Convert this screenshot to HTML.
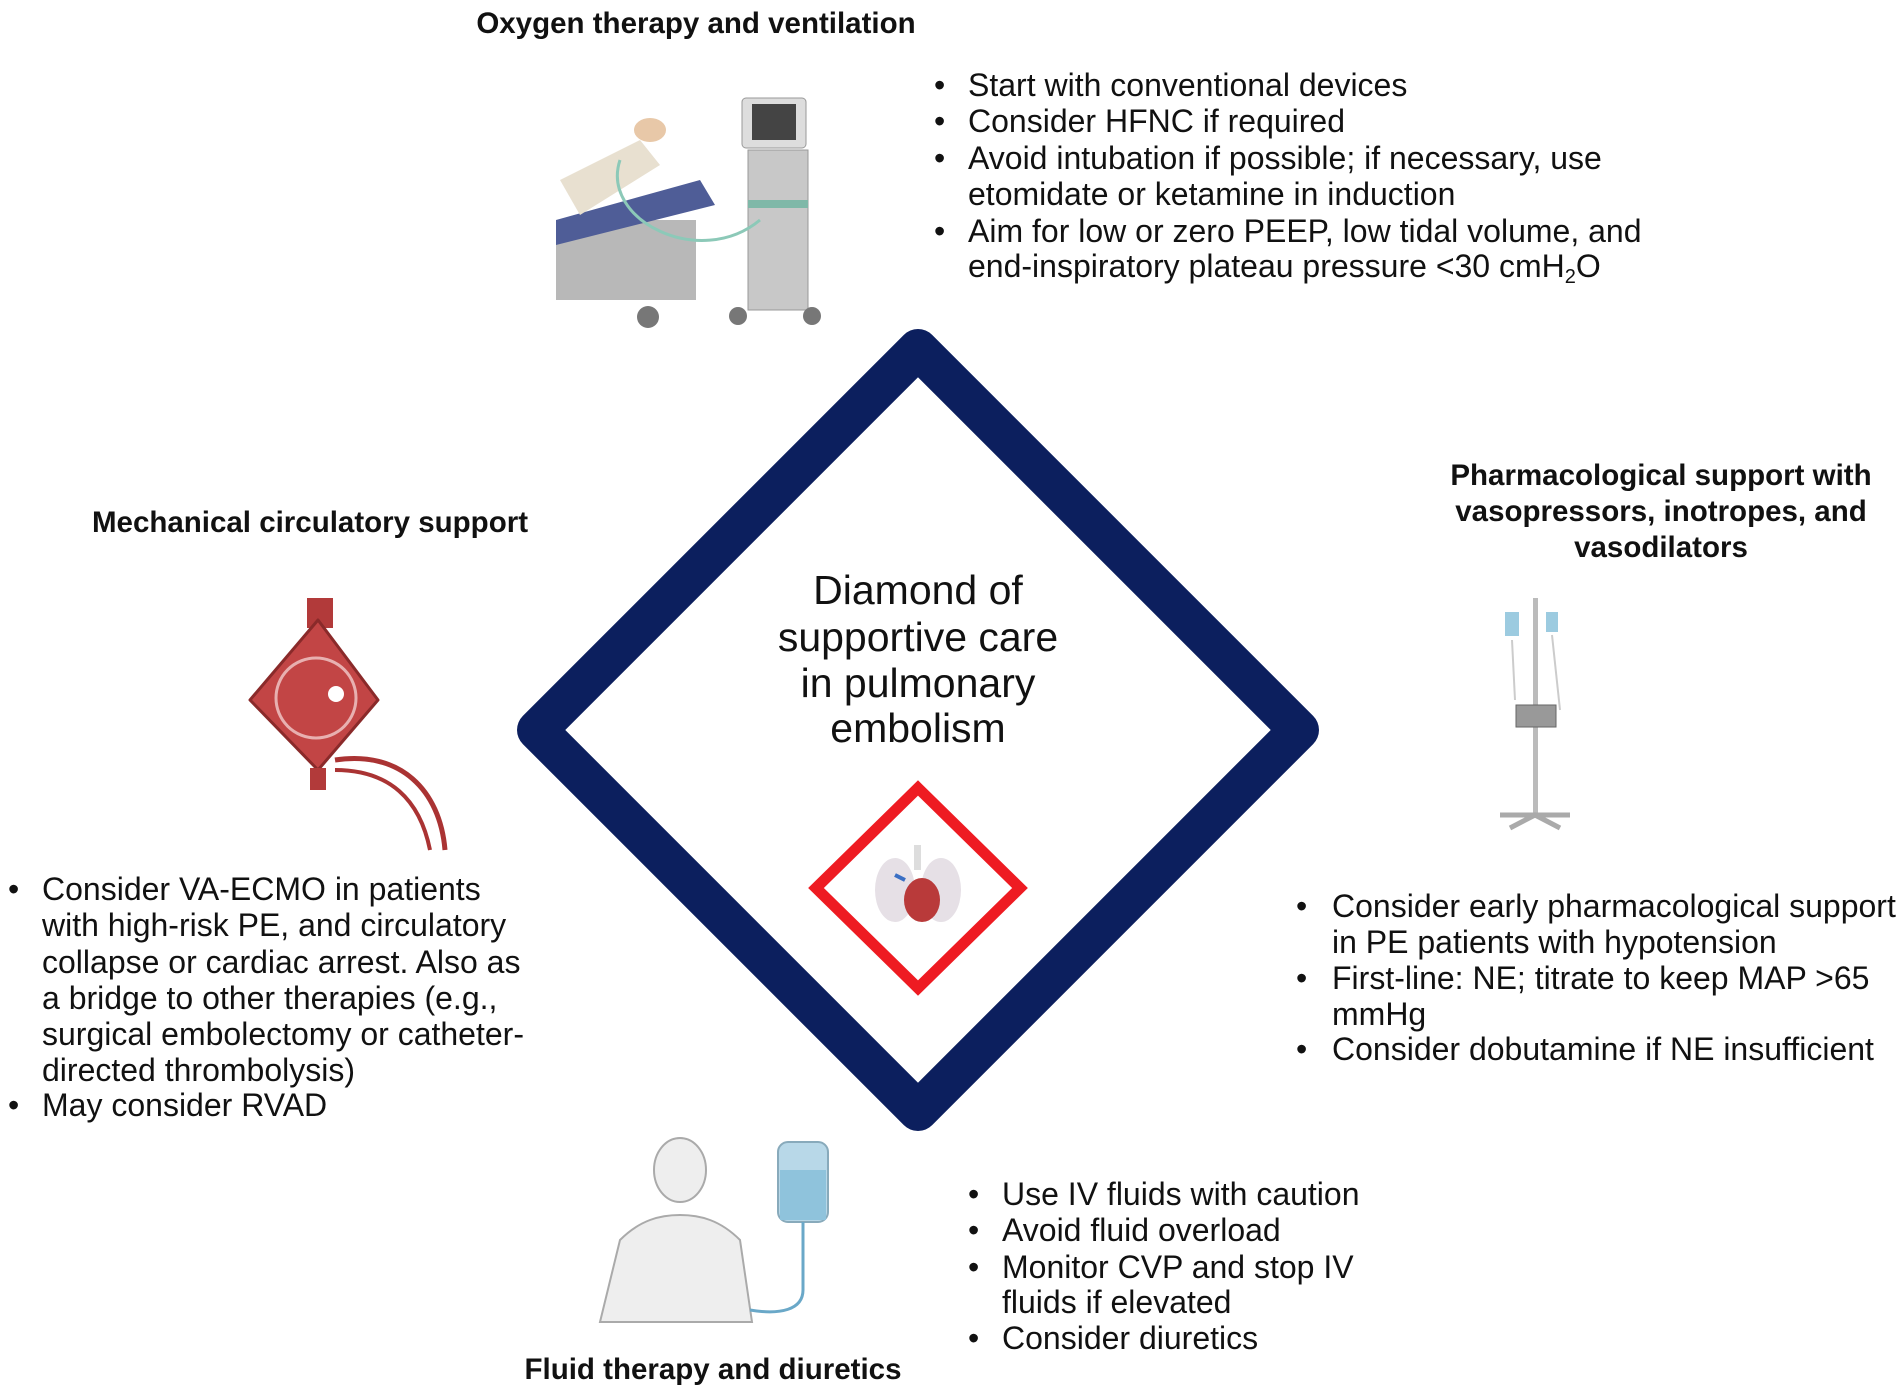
<!DOCTYPE html>
<html><head><meta charset="utf-8"><style>
html,body{margin:0;padding:0;background:#fff;}
svg{display:block;}
text{font-family:"Liberation Sans",sans-serif;fill:#111;}
.t{font-weight:bold;font-size:29.5px;}
.b{font-size:32px;}
</style></head><body>
<svg width="1902" height="1393" viewBox="0 0 1902 1393" xmlns="http://www.w3.org/2000/svg">
<polygon points="918,349 1299,730 918,1111 537,730" fill="none" stroke="#0c1f5e" stroke-width="40" stroke-linejoin="round"/>
<polygon points="918,788 1020,888 918,988 816,888" fill="none" stroke="#ee1b22" stroke-width="11" stroke-linejoin="miter"/>
<rect x="914" y="845" width="7" height="25" fill="#ddd"/>
<ellipse cx="895" cy="890" rx="20" ry="32" fill="#e6e0e6"/>
<ellipse cx="941" cy="890" rx="20" ry="32" fill="#e6e0e6"/>
<ellipse cx="922" cy="900" rx="18" ry="22" fill="#b93a3a"/>
<path d="M905,880 L895,875" stroke="#3a6fc4" stroke-width="4"/>

<g text-anchor="middle">
<text x="918" y="604" font-size="41">Diamond of</text>
<text x="918" y="651" font-size="41">supportive care</text>
<text x="918" y="697" font-size="41">in pulmonary</text>
<text x="918" y="742" font-size="41">embolism</text>
</g>

<text class="t" x="696" y="33" text-anchor="middle">Oxygen therapy and ventilation</text>
<text class="t" x="310" y="532" text-anchor="middle">Mechanical circulatory support</text>
<text class="t" x="1661" y="485" text-anchor="middle">Pharmacological support with</text>
<text class="t" x="1661" y="521" text-anchor="middle">vasopressors, inotropes, and</text>
<text class="t" x="1661" y="557" text-anchor="middle">vasodilators</text>
<text class="t" x="713" y="1379" text-anchor="middle">Fluid therapy and diuretics</text>

<text class="b" x="934" y="96">•</text><text class="b" x="968" y="96">Start with conventional devices</text>
<text class="b" x="934" y="132">•</text><text class="b" x="968" y="132">Consider HFNC if required</text>
<text class="b" x="934" y="169">•</text><text class="b" x="968" y="169">Avoid intubation if possible; if necessary, use</text>
<text class="b" x="968" y="205">etomidate or ketamine in induction</text>
<text class="b" x="934" y="242">•</text><text class="b" x="968" y="242">Aim for low or zero PEEP, low tidal volume, and</text>
<text class="b" x="968" y="277">end-inspiratory plateau pressure &lt;30 cmH<tspan font-size="20" dy="6">2</tspan><tspan dy="-6">O</tspan></text>

<text class="b" x="8" y="900">•</text><text class="b" x="42" y="900">Consider VA-ECMO in patients</text>
<text class="b" x="42" y="936">with high-risk PE, and circulatory</text>
<text class="b" x="42" y="973">collapse or cardiac arrest. Also as</text>
<text class="b" x="42" y="1009">a bridge to other therapies (e.g.,</text>
<text class="b" x="42" y="1045">surgical embolectomy or catheter-</text>
<text class="b" x="42" y="1081">directed thrombolysis)</text>
<text class="b" x="8" y="1116">•</text><text class="b" x="42" y="1116">May consider RVAD</text>

<text class="b" x="1296" y="917">•</text><text class="b" x="1332" y="917">Consider early pharmacological support</text>
<text class="b" x="1332" y="953">in PE patients with hypotension</text>
<text class="b" x="1296" y="989">•</text><text class="b" x="1332" y="989">First-line: NE; titrate to keep MAP &gt;65</text>
<text class="b" x="1332" y="1025">mmHg</text>
<text class="b" x="1296" y="1060">•</text><text class="b" x="1332" y="1060">Consider dobutamine if NE insufficient</text>

<text class="b" x="968" y="1205">•</text><text class="b" x="1002" y="1205">Use IV fluids with caution</text>
<text class="b" x="968" y="1241">•</text><text class="b" x="1002" y="1241">Avoid fluid overload</text>
<text class="b" x="968" y="1278">•</text><text class="b" x="1002" y="1278">Monitor CVP and stop IV</text>
<text class="b" x="1002" y="1313">fluids if elevated</text>
<text class="b" x="968" y="1349">•</text><text class="b" x="1002" y="1349">Consider diuretics</text>

<g>
<rect x="742" y="98" width="64" height="50" rx="4" fill="#ddd" stroke="#999"/>
<rect x="752" y="104" width="44" height="36" fill="#444"/>
<rect x="748" y="150" width="60" height="160" fill="#c8c8c8" stroke="#999"/>
<rect x="748" y="200" width="60" height="8" fill="#7fb8a8"/>
<circle cx="738" cy="316" r="9" fill="#777"/><circle cx="812" cy="316" r="9" fill="#777"/>
<rect x="556" y="220" width="140" height="80" fill="#b8b8b8"/>
<polygon points="556,220 700,180 715,205 556,245" fill="#4f5d97"/>
<path d="M560,180 L640,140 L660,165 L580,215 Z" fill="#e8e0d0"/>
<ellipse cx="650" cy="130" rx="16" ry="12" fill="#e8c8a8"/>
<circle cx="648" cy="317" r="11" fill="#777"/>
<path d="M620,160 C600,220 700,270 760,220" stroke="#8cc9b8" stroke-width="3" fill="none"/>
</g>

<g>
<rect x="307" y="598" width="26" height="30" fill="#b23a3a"/>
<polygon points="318,620 378,700 318,770 250,700" fill="#c24545" stroke="#8a2a2a" stroke-width="3" stroke-linejoin="round"/>
<circle cx="316" cy="698" r="40" fill="none" stroke="#e8b0b0" stroke-width="3"/>
<circle cx="336" cy="694" r="8" fill="#fff"/>
<rect x="310" y="768" width="16" height="22" fill="#b23a3a"/>
<path d="M335,760 C400,750 440,790 445,850" stroke="#a33" stroke-width="5" fill="none"/>
<path d="M335,770 C390,770 420,800 430,850" stroke="#a33" stroke-width="4" fill="none"/>
</g>

<g>
<rect x="1533" y="598" width="5" height="220" fill="#bbb"/>
<rect x="1505" y="612" width="14" height="24" fill="#9ccbe0"/>
<rect x="1546" y="612" width="12" height="20" fill="#9ccbe0"/>
<rect x="1516" y="705" width="40" height="22" fill="#999" stroke="#666"/>
<path d="M1500,815 L1570,815 M1510,828 L1535,815 L1560,828" stroke="#aaa" stroke-width="5" fill="none"/>
<path d="M1512,640 L1515,700 M1552,635 L1560,710" stroke="#ccc" stroke-width="2"/>
</g>

<g>
<ellipse cx="680" cy="1170" rx="26" ry="32" fill="#eee" stroke="#aaa" stroke-width="2"/>
<path d="M600,1322 L620,1240 C640,1220 660,1215 680,1215 C700,1215 720,1220 740,1240 L752,1322 Z" fill="#eee" stroke="#aaa" stroke-width="2"/>
<rect x="778" y="1142" width="50" height="80" rx="10" fill="#b8d8e8" stroke="#8ab" stroke-width="2"/>
<rect x="780" y="1170" width="46" height="50" fill="#8fc3dc"/>
<path d="M803,1222 L803,1290 C803,1310 780,1315 750,1310" stroke="#6aa8c8" stroke-width="3" fill="none"/>
</g>
</svg>
</body></html>
